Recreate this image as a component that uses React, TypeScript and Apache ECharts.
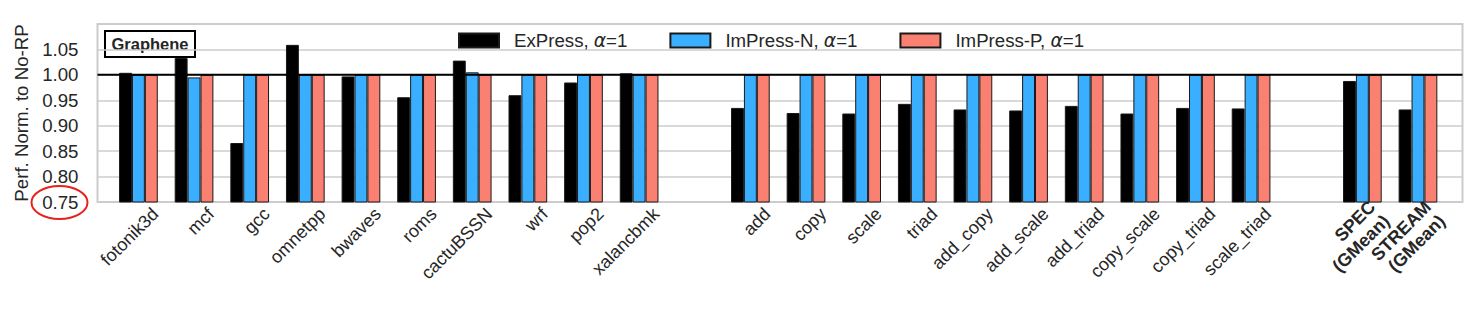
import React, { useEffect, useRef } from "react";
import * as echarts from "echarts";

const categories = [
  "fotonik3d", "mcf", "gcc", "omnetpp", "bwaves", "roms", "cactuBSSN", "wrf", "pop2", "xalancbmk",
  " ",
  "add", "copy", "scale", "triad", "add_copy", "add_scale", "add_triad", "copy_scale", "copy_triad", "scale_triad",
  "  ",
  "SPEC\n(GMean)", "STREAM\n(GMean)",
];
const boldCategories = ["SPEC\n(GMean)", "STREAM\n(GMean)"];

const expressValues = [
  1.004, 1.033, 0.866, 1.059, 0.997, 0.956, 1.028, 0.960, 0.985, 1.003,
  null,
  0.935, 0.925, 0.924, 0.943, 0.932, 0.930, 0.939, 0.924, 0.935, 0.934,
  null,
  0.988, 0.932,
];
const impressNValues = [
  1.0, 0.995, 1.0, 1.0, 1.0, 1.0, 1.005, 1.0, 1.0, 1.0,
  null,
  1.0, 1.0, 1.0, 1.0, 1.0, 1.0, 1.0, 1.0, 1.0, 1.0,
  null,
  1.0, 1.0,
];
const impressPValues = [
  1.0, 1.0, 1.0, 1.0, 1.0, 1.0, 1.0, 1.0, 1.0, 1.0,
  null,
  1.0, 1.0, 1.0, 1.0, 1.0, 1.0, 1.0, 1.0, 1.0, 1.0,
  null,
  1.0, 1.0,
];
const seriesNames = ["ExPress, α=1", "ImPress-N, α=1", "ImPress-P, α=1"];
const seriesColors = ["#000000", "#3aaeff", "#fa8072"];
const referenceValue = 1.0;
const yMin = 0.75;
const yMax = 1.1;
const yStep = 0.05;
const yAxisTitle = "Perf. Norm. to No-RP";
const panelTitle = "Graphene";

const FONT = "'Liberation Sans', Arial, sans-serif";
const TEXT = "#262626";
const GRID = "#cccccc";

export default function App() {
  const ref = useRef<HTMLDivElement>(null);

  useEffect(() => {
    document.body.style.margin = "0";
    if (!ref.current) return;
    const chart = echarts.init(ref.current, undefined, { renderer: "svg" });

    const barSeries = [expressValues, impressNValues, impressPValues].map((vals, i) => ({
      type: "bar",
      name: seriesNames[i],
      xAxisIndex: 1,
      yAxisIndex: 1,
      data: vals,
      barWidth: 12.9,
      barGap: "0%",
      itemStyle: { color: seriesColors[i], borderColor: "#1a1a1a", borderWidth: 1 },
      z: 3,
    }));

    const option: any = {
      animation: false,
      textStyle: { fontFamily: FONT, color: TEXT },
      grid: [
        { left: 97.5, right: 15.5, top: 24, bottom: 108, show: true, borderColor: GRID, borderWidth: 2, backgroundColor: "#ffffff" },
        { left: 110.6, right: 32.2, top: 24, bottom: 108 },
        { left: 127.6, right: 15.2, top: 24, bottom: 108 },
      ],
      xAxis: [
        { type: "value", gridIndex: 0, min: 0, max: 1, show: false },
        {
          type: "category", gridIndex: 1, data: categories, boundaryGap: true,
          axisLine: { show: false }, axisTick: { show: false }, axisLabel: { show: false }, splitLine: { show: false },
        },
        {
          type: "category", gridIndex: 2, data: categories, boundaryGap: true,
          axisLine: { show: false }, axisTick: { show: false }, splitLine: { show: false },
          axisLabel: {
            show: true, interval: 0, rotate: 45, margin: 9,
            fontSize: 18, color: TEXT, fontFamily: FONT,
            formatter: (v: string) => {
              if (boldCategories.includes(v)) {
                return v.split("\n").map((s) => `{b|${s}}`).join("\n");
              }
              return v;
            },
            rich: { b: { fontWeight: "bold", fontSize: 18, color: TEXT, fontFamily: FONT, lineHeight: 20 } },
          },
        },
      ],
      yAxis: [
        {
          type: "value", gridIndex: 0, min: yMin, max: yMax, interval: yStep,
          name: yAxisTitle, nameLocation: "middle", nameGap: 64,
          nameTextStyle: { fontSize: 18.67, color: TEXT, fontFamily: FONT },
          axisLine: { show: false }, axisTick: { show: false },
          axisLabel: {
            margin: 19, fontSize: 18.67, color: TEXT, fontFamily: FONT,
            formatter: (v: number) => (v > yMax - yStep / 2 ? "" : v.toFixed(2)),
          },
          splitLine: { show: true, lineStyle: { color: GRID, width: 1.5 } },
        },
        { type: "value", gridIndex: 1, min: yMin, max: yMax, show: false },
        { type: "value", gridIndex: 2, min: yMin, max: yMax, show: false },
      ],
      legend: {
        left: 458, top: 31, padding: 0,
        itemWidth: 40, itemHeight: 14, itemGap: 42,
        selectedMode: false,
        data: seriesNames.map((n) => ({ name: n, icon: "rect" })),
        formatter: (name: string) => {
          const [pre, post] = name.split("α");
          return `{f|${pre}}{a|α}{n|${post}}`;
        },
        textStyle: {
          fontSize: 18.67, color: TEXT, fontFamily: FONT,
          rich: {
            f: { fontSize: 18.67, color: TEXT, fontFamily: FONT, padding: [0, 0, 0, 10] },
            a: { fontSize: 18.67, color: TEXT, fontFamily: "'DejaVu Sans', sans-serif", fontStyle: "italic" },
            n: { fontSize: 18.67, color: TEXT, fontFamily: FONT },
          },
        },
      },
      series: [
        ...barSeries,
        {
          type: "line",
          name: "ref",
          xAxisIndex: 0,
          yAxisIndex: 0,
          data: [[0, referenceValue], [1, referenceValue]],
          symbol: "none",
          lineStyle: { color: "#000000", width: 2 },
          z: 5,
          silent: true,
        },
      ],
      graphic: [
        {
          type: "group", left: 104, top: 30, z: 10,
          children: [
            { type: "rect", shape: { x: 0, y: 0, width: 90, height: 26 }, style: { fill: "#ffffff", stroke: "#000000", lineWidth: 2 } },
            { type: "text", x: 45, y: 13, style: { text: panelTitle, fontFamily: FONT, fontWeight: "bold", fontSize: 16.5, fill: TEXT, align: "center", verticalAlign: "middle" } },
          ],
        },
        {
          type: "ellipse", z: 10,
          shape: { cx: 59.5, cy: 202.5, rx: 28, ry: 16.5 },
          style: { fill: "none", stroke: "#e8221b", lineWidth: 2 },
        },
      ],
    };

    chart.setOption(option);
    return () => chart.dispose();
  }, []);

  return <div ref={ref} style={{ width: 1478, height: 310 }} />;
}
